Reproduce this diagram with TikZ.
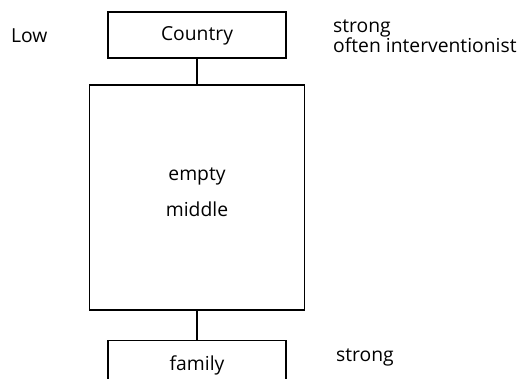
\documentclass[tikz,border=0pt]{standalone}
\usepackage{fontspec}
\setmainfont{Open Sans}
\usetikzlibrary{positioning}

\begin{document}
\begin{tikzpicture}[x=1pt,y=1pt,node distance=26pt,
  every node/.style={font=\fontsize{19.3}{19.5}\selectfont,align=center,inner sep=0pt},
  levelbox/.style={draw=black,line width=1.7pt,minimum width=178pt,minimum height=46pt}]
\useasboundingbox (0,0) rectangle (522,-379);
\node[levelbox] (country) at (197,-35) {};
\node[levelbox,minimum width=215pt,minimum height=225pt,below=25pt of country] (middle) {};
\node[levelbox,below=29pt of middle] (family) {};
\node (countrytext) at ([yshift=-1pt]country.center) {Country};
\node (middletext) at ([yshift=5pt]middle.center) {empty\\[16pt]middle};
\node (familytext) at ([yshift=-2pt]family.center) {family};
\node[anchor=west] (low) at (11,-36) {Low};
\node[anchor=west,align=left] (top) at (333,-36) {strong\\often interventionist};
\node[anchor=west] (bottom) at (336,-357) {strong};
\draw[line width=1.7pt] (country) -- (middle);
\draw[line width=1.7pt] (middle) -- (family);
\end{tikzpicture}
\end{document}
